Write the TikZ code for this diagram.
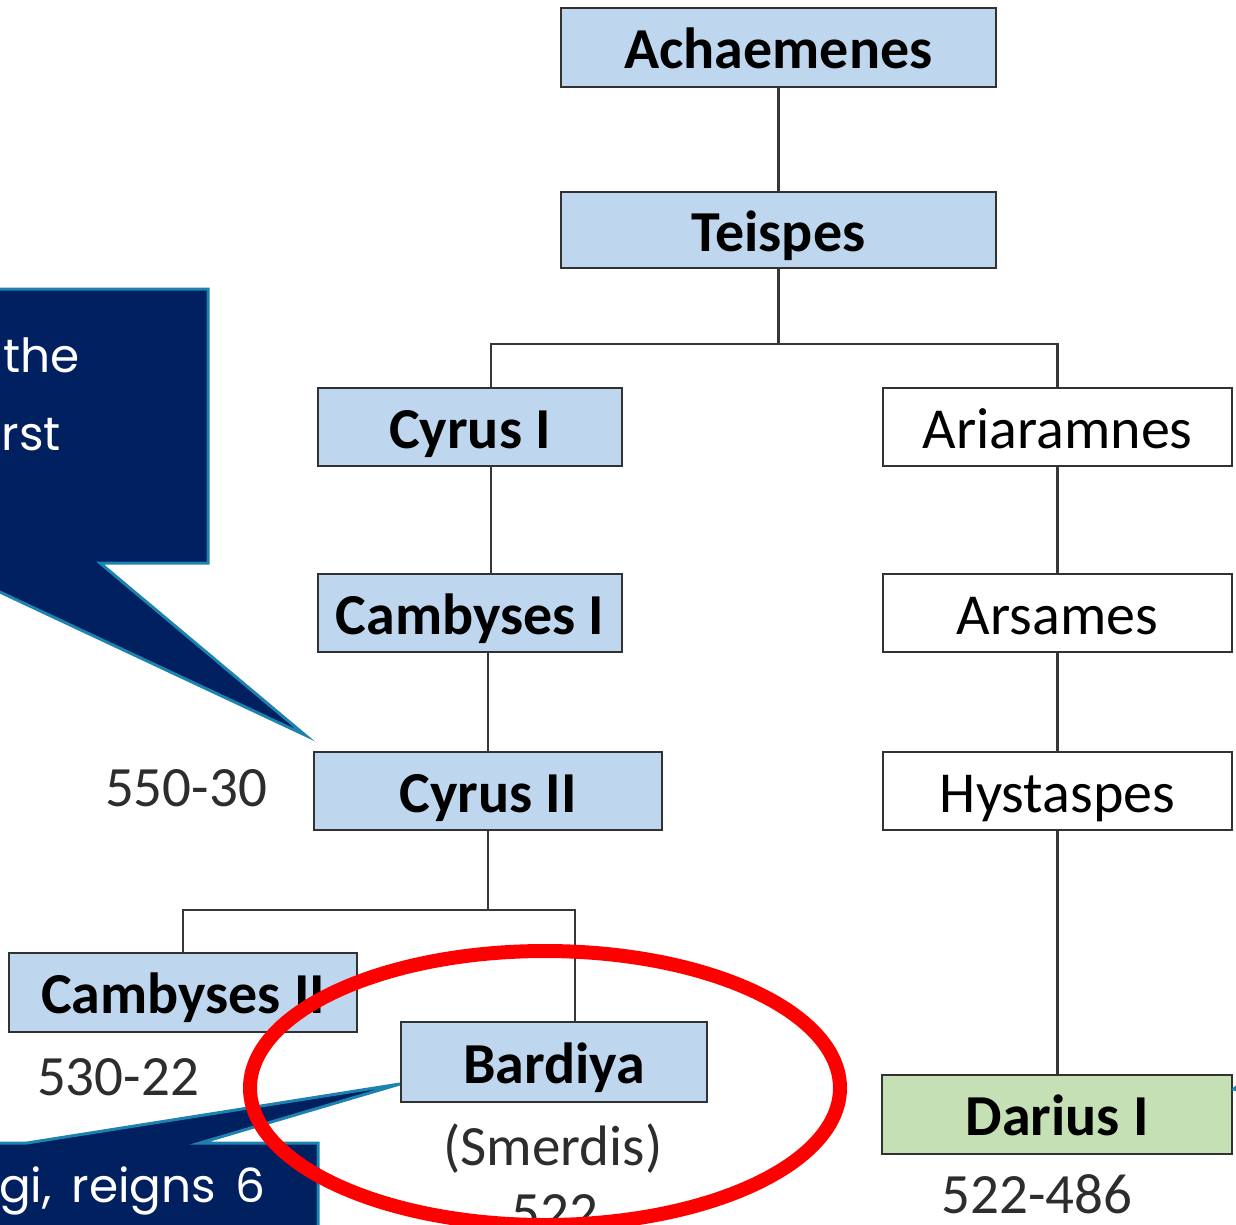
\documentclass[tikz,border=0pt]{standalone}
\usepackage{fontspec}
\setmainfont{Carlito}
\newfontfamily\calloutfont{Poppins}
\newcommand\myWideSpace{\spaceskip=0.42em\relax}
\definecolor{boxblue}{RGB}{190,214,238}
\definecolor{boxgreen}{RGB}{197,224,180}
\definecolor{boxline}{RGB}{50,50,50}
\definecolor{connline}{RGB}{55,55,55}
\definecolor{navy}{RGB}{0,32,96}
\definecolor{calloutedge}{RGB}{28,130,175}
\definecolor{labelgray}{RGB}{45,45,45}
\begin{document}
\begin{tikzpicture}[x=1pt,y=-1pt,
  famnode/.style={draw=boxline, line width=2.4pt, inner sep=0pt, minimum height=78pt,
    text height=44pt, text depth=2pt, font=\fontsize{58}{60}\selectfont, text=black},
  bluebox/.style={famnode, fill=boxblue, font=\bfseries\fontsize{58}{60}\selectfont},
  whitebox/.style={famnode, fill=white},
  greenbox/.style={famnode, fill=boxgreen, font=\bfseries\fontsize{58}{60}\selectfont},
  conn/.style={draw=connline, line width=2.3pt},
  datelabel/.style={anchor=base, inner sep=0pt, text=labelgray, font=\fontsize{57}{60}\selectfont},
  callout/.style={fill=navy, draw=calloutedge, line width=3pt, line join=miter},
  callouttext/.style={anchor=base east, inner sep=0pt, text=white, font=\calloutfont\fontsize{47}{60}\selectfont},
  ring/.style={draw=red, line width=14pt}
]
\useasboundingbox (0,0) rectangle (1236,1224);
\clip (0,0) rectangle (1236,1224);
\fill[white] (0,0) rectangle (1236,1224);

% family boxes
\node[bluebox, minimum width=435pt, minimum height=79pt] (ach) at (778.5,47.5) {Achaemenes};
\node[bluebox, minimum width=435pt, minimum height=76pt] (tei) at (778.5,230) {Teispes};
\node[bluebox, minimum width=304pt] (cyr1) at (470,427) {Cyrus I};
\node[whitebox, minimum width=349pt] (aria) at (1057.5,427) {Ariaramnes};
\node[bluebox, minimum width=304pt] (camb1) at (470,613) {Cambyses I};
\node[whitebox, minimum width=349pt] (ars) at (1057.5,613) {Arsames};
\node[bluebox, minimum width=348pt] (cyr2) at (488,791) {Cyrus II};
\node[whitebox, minimum width=349pt] (hys) at (1057.5,791) {Hystaspes};
\node[bluebox, minimum width=348pt, minimum height=79pt] (camb2) at (183,992.5) {Cambyses II};
\node[bluebox, minimum width=306pt, minimum height=80pt] (bard) at (554,1062) {Bardiya};
\node[greenbox, minimum width=350pt, minimum height=79pt] (dar) at (1057,1114.5) {Darius I};

% junctions
\coordinate (j1) at (778.5,344);
\coordinate (j2) at (488,910);

% connectors
\draw[conn] (ach.south) -- (tei.north);
\draw[conn] (tei.south) -- (j1);
\draw[conn] ([xshift=21pt]cyr1.north) |- (j1) -| (aria.north);
\draw[conn] ([xshift=21pt]cyr1.south) -- ([xshift=21pt]camb1.north);
\draw[conn] ([xshift=18pt]camb1.south) -- (cyr2.north);
\draw[conn] (cyr2.south) -- (j2);
\draw[conn] (camb2.north) |- (j2) -| ([xshift=21pt]bard.north);
\draw[conn] (aria.south) -- (ars.north);
\draw[conn] (ars.south) -- (hys.north);
\draw[conn] (hys.south) -- ([xshift=0.5pt]dar.north);

% date labels
\node[datelabel] (d1) at (186,806) {550-30};
\node[datelabel] (d2) at (118,1095) {530-22};
\node[datelabel] (d3) at (1037,1213) {522-486};
\node[datelabel] (sm) at (553,1165) {(Smerdis)};
\node[datelabel] (d4) at (555,1231) {522};

% callouts
\draw[callout] (-80,289) -- (208,289) -- (208,563) -- (100,563) -- (305,735) -- (-62,563) -- (-80,563) -- cycle;
\node[callouttext] (c1a) at (80,372) {the};
\node[callouttext] (c1b) at (61,450) {rst};

\draw[callout] (-20,1143) -- (27,1143) -- (bard.west |- 0,1084) -- (200,1143) -- (318,1143) -- (318,1270) -- (-20,1270) -- cycle;
\node[callouttext] (c2) at (266,1202) {\myWideSpace gi, reigns 6};

\draw[callout] (1234,1089) -- (1290,1040) -- (1290,1110) -- cycle;

% highlight ring
\draw[ring] (545,1088) ellipse [x radius=295pt, y radius=137pt];
\end{tikzpicture}
\end{document}
